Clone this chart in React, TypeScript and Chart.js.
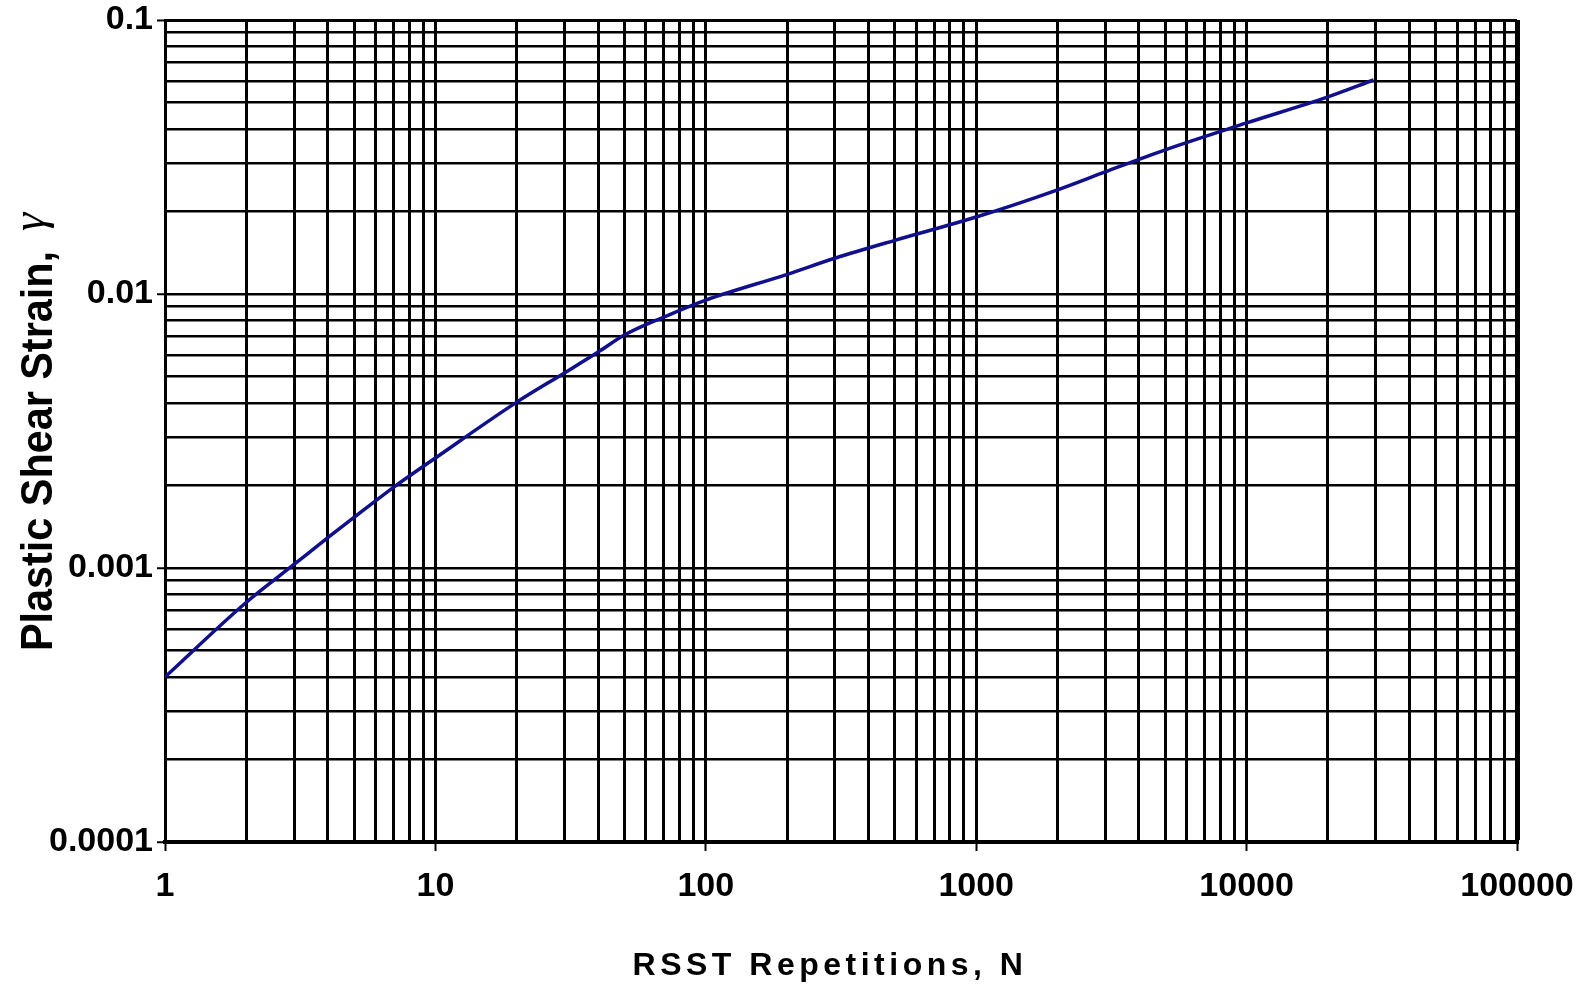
import React, { useEffect, useRef } from 'react';
import { Chart, registerables } from 'chart.js';

Chart.register(...registerables);

// Measured curve: RSST repetitions vs. plastic shear strain
const repetitions = [1, 2, 3, 4, 5, 7, 10, 20, 30, 40, 50, 70, 100, 200, 300, 500, 1000, 2000, 3000, 5000, 10000, 20000, 29500];
const shearStrain = [0.0004, 0.00075, 0.00103, 0.00129, 0.00153, 0.00197, 0.00252, 0.00403, 0.00515, 0.00614, 0.00708, 0.00824, 0.0095, 0.0118, 0.0135, 0.0157, 0.0191, 0.024, 0.0279, 0.0336, 0.0421, 0.0524, 0.0604];

// Axis decades and their labels
const xDecades = [1, 10, 100, 1000, 10000, 100000];
const xTickLabels = ['1', '10', '100', '1000', '10000', '100000'];
const yDecades = [0.0001, 0.001, 0.01, 0.1];
const yTickLabels = ['0.0001', '0.001', '0.01', '0.1'];
const minorSteps = [1, 2, 3, 4, 5, 6, 7, 8, 9];

const xTitle = 'RSST Repetitions, N';
const yTitle = 'Plastic Shear Strain,';
const yTitleSymbol = 'γ';

const TICK_FONT = '"Liberation Sans", Arial, sans-serif';

// 1..9 × 10^n gridlines for a log axis
function logTicks(decades: number[]) {
  const out: { value: number; major: boolean }[] = [];
  for (let i = 0; i < decades.length - 1; i++) {
    for (const m of minorSteps) {
      out.push({ value: Number((decades[i] * m).toPrecision(8)), major: m === 1 });
    }
  }
  out.push({ value: decades[decades.length - 1], major: true });
  return out;
}

function decadeLabel(value: number, decades: number[], labels: string[]) {
  const idx = decades.findIndex((d) => Math.abs(value / d - 1) < 1e-6);
  return idx >= 0 ? labels[idx] : '';
}

const axisTitlePlugin = {
  id: 'axisTitles',
  afterDraw(chart: any) {
    const ctx: CanvasRenderingContext2D = chart.ctx;
    const area = chart.chartArea;
    ctx.save();
    ctx.fillStyle = '#000';
    ctx.textBaseline = 'alphabetic';

    // horizontal axis title
    ctx.font = `bold 32px ${TICK_FONT}`;
    (ctx as any).letterSpacing = '4.5px';
    ctx.textAlign = 'center';
    ctx.fillText(xTitle, (area.left + area.right) / 2 - 11, 975);

    // vertical axis title, reading bottom to top
    (ctx as any).letterSpacing = '0px';
    ctx.translate(52, 651);
    ctx.rotate(-Math.PI / 2);
    ctx.save();
    ctx.scale(0.94, 1);
    ctx.font = `bold 44px ${TICK_FONT}`;
    ctx.textAlign = 'left';
    ctx.fillText(yTitle, 0, 0);
    const w = ctx.measureText(yTitle).width * 0.94;
    ctx.restore();
    ctx.font = 'italic 46px "Liberation Serif", "DejaVu Serif", serif';
    ctx.textAlign = 'left';
    ctx.fillText(yTitleSymbol, w + 20, -8);
    ctx.restore();
  },
};

export default function App() {
  const canvasRef = useRef<HTMLCanvasElement | null>(null);

  useEffect(() => {
    const canvas = canvasRef.current;
    if (!canvas) return;

    const chart = new Chart(canvas, {
      type: 'line',
      data: {
        datasets: [
          {
            data: repetitions.map((n, i) => ({ x: n, y: shearStrain[i] })),
            borderColor: '#10108c',
            borderWidth: 3.5,
            pointRadius: 0,
            cubicInterpolationMode: 'monotone',
            fill: false,
          },
        ],
      },
      options: {
        animation: false,
        responsive: true,
        maintainAspectRatio: false,
        layout: { padding: { left: 0, top: 20, right: 66, bottom: 0 } },
        plugins: {
          legend: { display: false },
          tooltip: { enabled: false },
        },
        scales: {
          x: {
            type: 'logarithmic',
            min: 1,
            max: 100000,
            afterBuildTicks: (axis: any) => {
              axis.ticks = logTicks(xDecades);
            },
            afterFit: (axis: any) => {
              axis.height = 155;
              axis.paddingLeft = 0;
              axis.paddingRight = 0;
            },
            ticks: {
              autoSkip: false,
              maxRotation: 0,
              minRotation: 0,
              padding: 19,
              color: '#000',
              font: { family: TICK_FONT, size: 34, weight: 'bold', lineHeight: 1 },
              callback: (v: any) => decadeLabel(Number(v), xDecades, xTickLabels),
            },
            grid: {
              color: '#000',
              lineWidth: (c: any) => (c.tick && c.tick.value === 100000 ? 5 : 3),
              tickLength: 9,
              tickWidth: 2,
              tickColor: (c: any) => (c.tick && c.tick.major ? '#000' : 'rgba(0,0,0,0)'),
            },
            border: { display: true, color: '#000', width: 4 },
          },
          y: {
            type: 'logarithmic',
            min: 0.0001,
            max: 0.1,
            afterBuildTicks: (axis: any) => {
              axis.ticks = logTicks(yDecades);
            },
            afterFit: (axis: any) => {
              axis.width = 165;
              axis.paddingTop = 0;
              axis.paddingBottom = 0;
            },
            ticks: {
              autoSkip: false,
              padding: 4,
              color: '#000',
              font: { family: TICK_FONT, size: 34, weight: 'bold', lineHeight: 1 },
              callback: (v: any) => decadeLabel(Number(v), yDecades, yTickLabels),
            },
            grid: {
              color: '#000',
              lineWidth: (c: any) => (c.tick && c.tick.value === 0.1 ? 3 : 2.5),
              tickLength: 8,
              tickWidth: 2,
              tickColor: (c: any) => (c.tick && c.tick.major ? '#000' : 'rgba(0,0,0,0)'),
            },
            border: { display: true, color: '#000', width: 3 },
          },
        },
      } as any,
      plugins: [axisTitlePlugin],
    });

    return () => chart.destroy();
  }, []);

  return (
    <div style={{ position: 'absolute', left: 0, top: 0, width: 1583, height: 997, background: '#fff' }}>
      <canvas ref={canvasRef} />
    </div>
  );
}
